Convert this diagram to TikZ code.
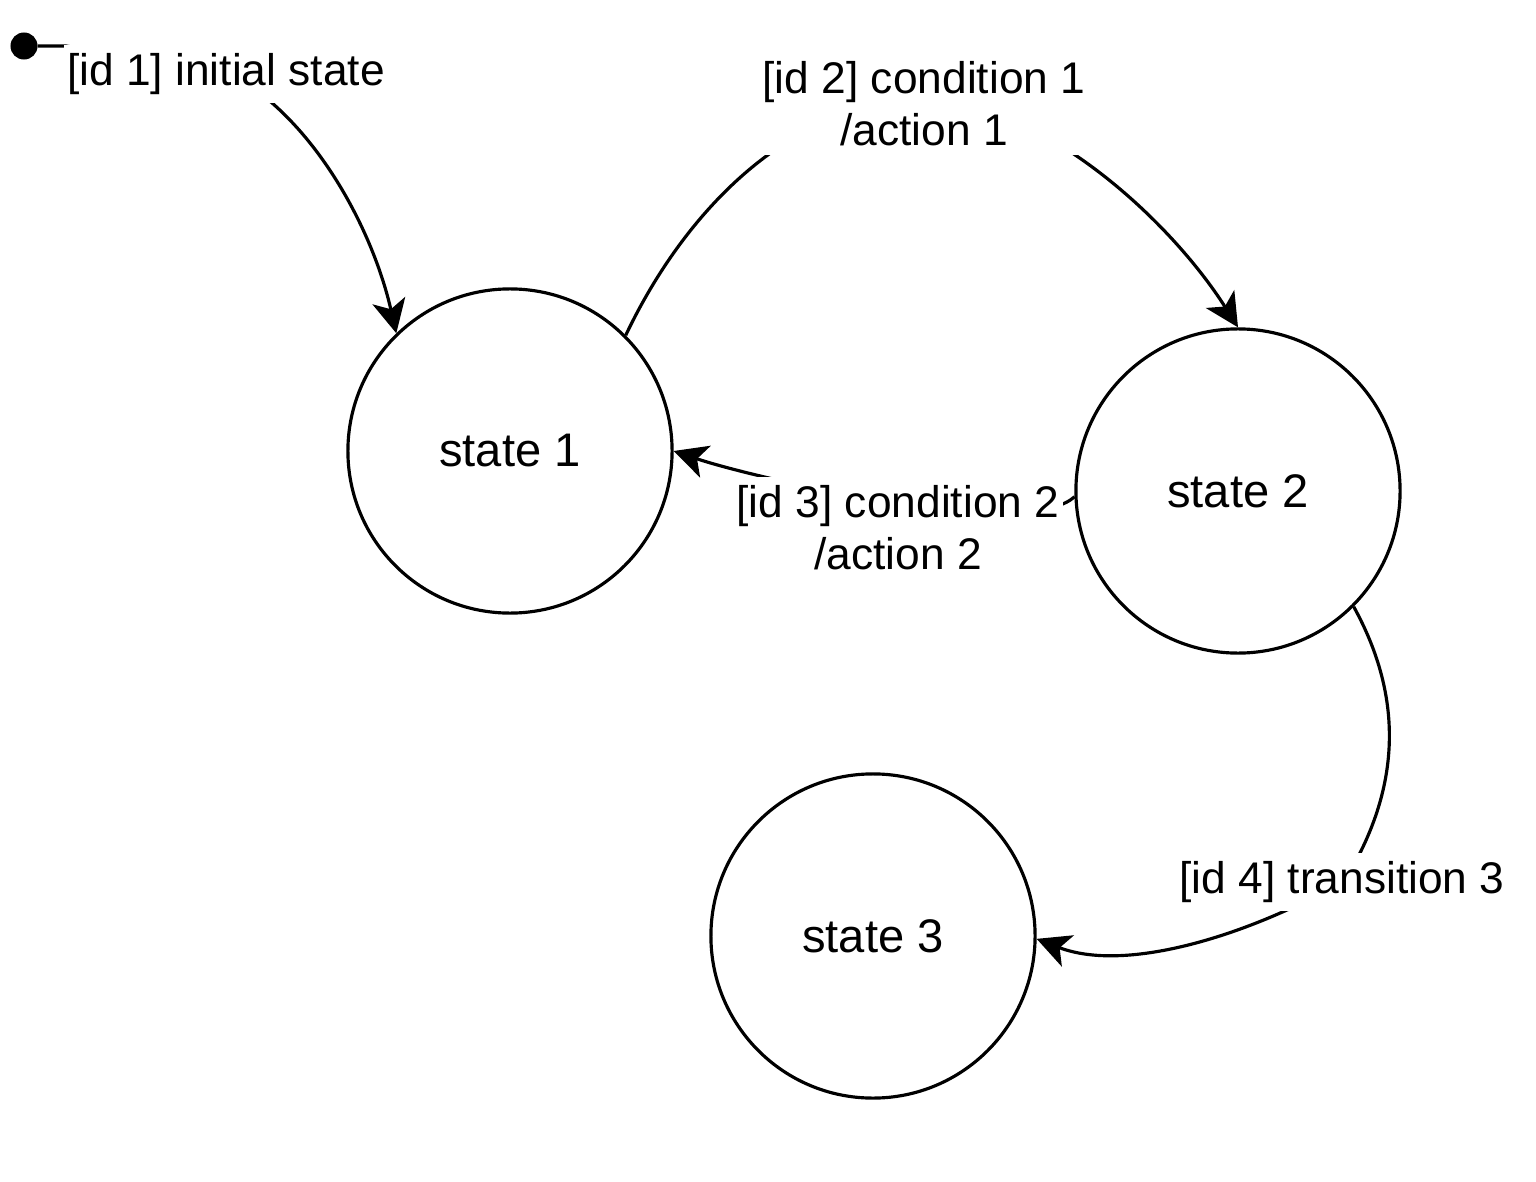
\documentclass[tikz,border=0pt]{standalone}
\usepackage{fontspec}
\setmainfont{Liberation Sans}
\usepackage{tikz}
\usetikzlibrary{arrows.meta}
\tikzset{
every picture/.style={line width=0.9pt, >={Stealth[length=9.5pt,width=9.5pt,inset=2.5pt]}},
%%%%%%%%%%  Node styles
startdot/.style={fill=black,circle,minimum size=0.27cm, inner sep=0pt, outer
sep=0},
statenode/.style={circle,draw,minimum size=3.24cm, inner sep=0pt,
                  font=\fontsize{13.4}{16}\selectfont},
guard/.style={fill=white, inner xsep=1pt, inner ysep=2.5pt, align=center,
              font=\fontsize{12.6}{14.8}\selectfont},
%%%%%%% transition lines
transition/.style={->}
}

\begin{document}
\begin{tikzpicture}[x=0.01cm,y=-0.01cm]
\useasboundingbox (0,0) rectangle (1536,1182);
%%states
\node[statenode] (s1) at (510,451) {state 1};
\node[statenode] (s2) at (1238,491) {state 2};
\node[statenode] (s3) at (873,936) {state 3};
%%initial dot
\node[startdot] (init) at (24,46) {};
%%%%%%%%%%%%%%%%%%%%%%%
%%id 1, into state 1
\draw[transition] (init) -- (66,46)
	.. controls (150,60) and (230,70) .. (265,97)
	.. controls (330,150) and (375,240) .. (s1.134);
%%id 2, state 1 to state 2
\draw[transition] (s1.45)
	.. controls (690,200) and (800,100) .. (924,100)
	.. controls (1040,100) and (1170,220) .. (s2.north);
%%id 3, state 2 back to state 1
\draw[transition] (s2.182)
	.. controls (1030,540) and (760,480) .. (s1.east);
%%id 4, state 2 to state 3
\draw[transition] (s2.-45)
	.. controls (1405,700) and (1400,790) .. (1345,880)
	.. controls (1260,930) and (1130,975) .. (s3.-1);
%%%%%%%%%%%%%%%%%%%%%%%
%%labels on top of the lines
\node[guard] (t1) at (226,74) {[id 1] initial state};
\node[guard] (t2) at (924,104) {[id 2] condition 1\\/action 1};
\node[guard] (t3) at (898,528) {[id 3] condition 2\\/action 2};
\node[guard] (t4) at (1342,882) {[id 4] transition 3};
\end{tikzpicture}
\end{document}
